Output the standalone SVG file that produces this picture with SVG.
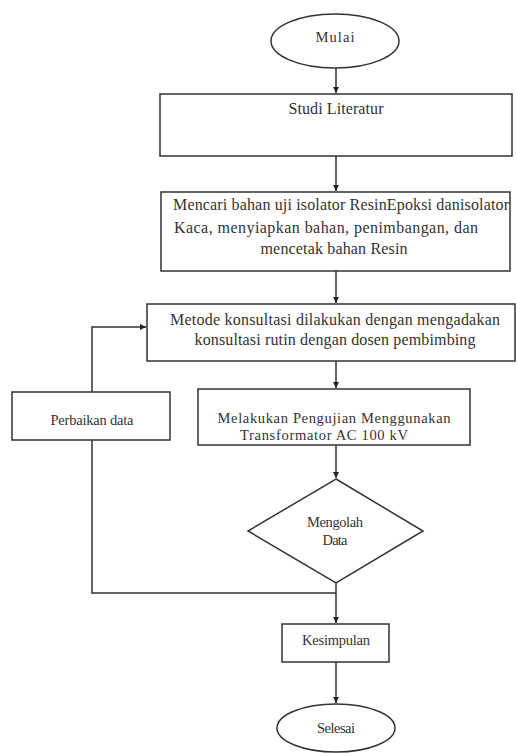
<svg xmlns="http://www.w3.org/2000/svg" width="517" height="753" viewBox="0 0 517 753">
<style>
.s{fill:#fff;stroke:#333;stroke-width:1.5}
.c{fill:none;stroke:#333;stroke-width:1.5}
text{font-family:"Liberation Serif","Times New Roman",serif;fill:#333;text-anchor:middle}
.b{font-size:16px}
.m{font-size:14.5px}
</style>
<defs>
<marker id="ah" viewBox="0 0 10 10" refX="10" refY="5" markerWidth="6" markerHeight="6" orient="auto" markerUnits="userSpaceOnUse">
<path d="M0,0 L10,5 L0,10 z" fill="#222"/>
</marker>
</defs>
<rect width="517" height="753" fill="#fff"/>
<g id="connectors">
<line class="c" x1="336" y1="68" x2="336" y2="93" marker-end="url(#ah)"/>
<line class="c" x1="336" y1="156" x2="336" y2="191" marker-end="url(#ah)"/>
<line class="c" x1="336" y1="271" x2="336" y2="303" marker-end="url(#ah)"/>
<line class="c" x1="336" y1="361" x2="336" y2="388" marker-end="url(#ah)"/>
<line class="c" x1="336" y1="445" x2="336" y2="478" marker-end="url(#ah)"/>
<line class="c" x1="336" y1="583" x2="336" y2="623" marker-end="url(#ah)"/>
<line class="c" x1="336" y1="662" x2="336" y2="703" marker-end="url(#ah)"/>
<polyline class="c" points="336,593 92,593 92,440"/>
<polyline class="c" points="92,392 92,327 146,327" marker-end="url(#ah)"/>
</g>
<g id="mulai">
<ellipse class="s" cx="335" cy="41" rx="64" ry="27"/>
<text class="m" x="335" y="42" textLength="39">Mulai</text>
</g>
<g id="studi">
<rect class="s" x="160" y="94" width="352" height="62"/>
<text class="b" x="336" y="114" textLength="95">Studi Literatur</text>
</g>
<g id="mencari">
<rect class="s" x="161" y="192" width="349" height="79"/>
<text class="b" x="341" y="210" textLength="336">Mencari bahan uji isolator ResinEpoksi danisolator</text>
<text class="b" x="326" y="233" textLength="304">Kaca, menyiapkan bahan, penimbangan, dan</text>
<text class="b" x="334" y="254" textLength="147">mencetak bahan Resin</text>
</g>
<g id="metode">
<rect class="s" x="147" y="304" width="368" height="57"/>
<text class="b" x="335" y="325" textLength="330">Metode konsultasi dilakukan dengan mengadakan</text>
<text class="b" x="335" y="345" textLength="281">konsultasi rutin dengan dosen pembimbing</text>
</g>
<g id="melakukan">
<rect class="s" x="198" y="389" width="272" height="56"/>
<text class="m" x="334" y="423" textLength="233">Melakukan Pengujian Menggunakan</text>
<text class="m" x="324" y="440" textLength="168">Transformator  AC 100 kV</text>
</g>
<g id="perbaikan">
<rect class="s" x="12" y="392" width="158" height="48"/>
<text class="m" x="92" y="425" textLength="83">Perbaikan data</text>
</g>
<g id="mengolah">
<polygon class="s" points="336,479 423,531 336,583 248,531"/>
<text class="m" x="335" y="527" textLength="56">Mengolah</text>
<text class="m" x="335" y="545" textLength="25">Data</text>
</g>
<g id="kesimpulan">
<rect class="s" x="282" y="624" width="107" height="38"/>
<text class="m" x="336" y="645" textLength="68">Kesimpulan</text>
</g>
<g id="selesai">
<ellipse class="s" cx="336" cy="728" rx="59" ry="24"/>
<text class="m" x="336" y="733" textLength="38">Selesai</text>
</g>
</svg>
